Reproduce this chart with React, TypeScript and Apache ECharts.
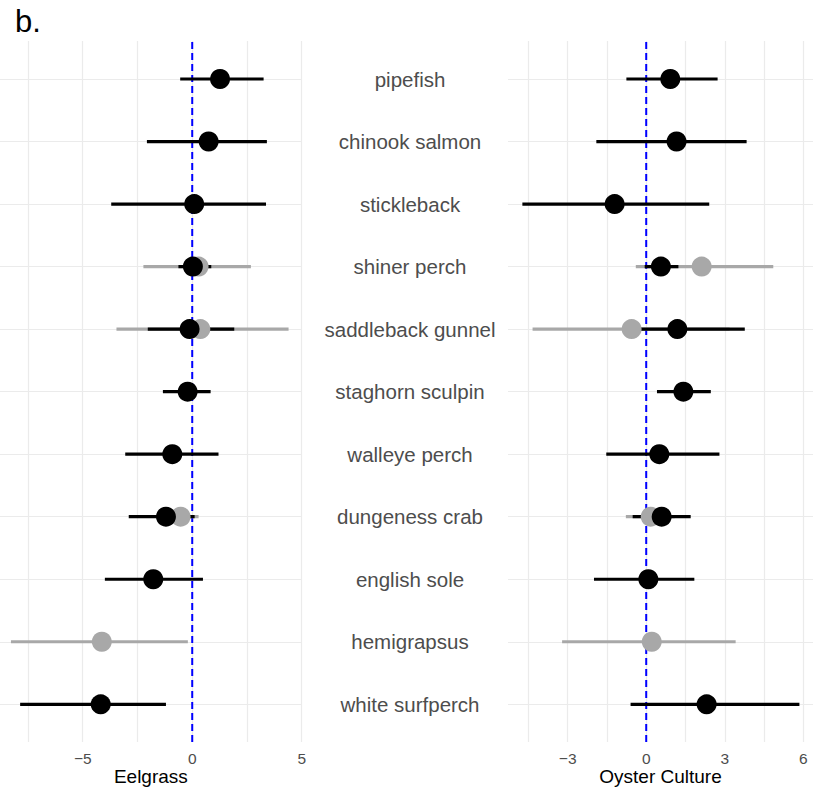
import React, { useEffect, useRef } from "react";
import * as echarts from "echarts";

// Species rows, top to bottom
const species = [
  "pipefish",
  "chinook salmon",
  "stickleback",
  "shiner perch",
  "saddleback gunnel",
  "staghorn sculpin",
  "walleye perch",
  "dungeness crab",
  "english sole",
  "hemigrapsus",
  "white surfperch",
];

// Eelgrass effects (black = primary estimate, grey = alternative estimate)
const eelBlackEst = [1.27, 0.75, 0.09, 0.03, -0.12, -0.21, -0.91, -1.2, -1.78, null, -4.18];
const eelBlackLo = [-0.55, -2.07, -3.7, -0.63, -2.03, -1.34, -3.06, -2.9, -3.99, null, -7.86];
const eelBlackHi = [3.26, 3.41, 3.37, 0.87, 1.92, 0.84, 1.2, 0.11, 0.49, null, -1.2];
const eelGreyEst = [null, null, null, 0.29, 0.37, null, null, -0.53, null, -4.13, null];
const eelGreyLo = [null, null, null, -2.23, -3.46, null, null, -1.4, null, -8.28, null];
const eelGreyHi = [null, null, null, 2.68, 4.4, null, null, 0.29, null, -0.2, null];

// Oyster culture effects
const oysBlackEst = [0.93, 1.17, -1.2, 0.57, 1.2, 1.43, 0.51, 0.6, 0.09, null, 2.32];
const oysBlackLo = [-0.75, -1.9, -4.73, -0.05, -0.84, 0.42, -1.52, -0.51, -1.99, null, -0.59];
const oysBlackHi = [2.74, 3.85, 2.42, 1.24, 3.78, 2.48, 2.81, 1.71, 1.85, null, 5.87];
const oysGreyEst = [null, null, null, 2.13, -0.55, null, null, 0.18, null, 0.22, null];
const oysGreyLo = [null, null, null, -0.39, -4.34, null, null, -0.77, null, -3.21, null];
const oysGreyHi = [null, null, null, 4.87, 3.2, null, null, 1.1, null, 3.43, null];

const BLACK = "#000000";
const GREY = "#A8A8A8";
const GRID = "#EBEBEB";
const TEXT = "#4D4D4D";
const FONT = "'Liberation Sans', Arial, Helvetica, sans-serif";

const minus = (v: number) => (v < 0 ? "\u2212" + Math.abs(v) : String(v));

function ranges(lo: (number | null)[], hi: (number | null)[]) {
  const out: number[][] = [];
  lo.forEach((l, i) => {
    const h = hi[i];
    if (l !== null && h !== null) out.push([l, h, i]);
  });
  return out;
}

function points(est: (number | null)[]) {
  const out: number[][] = [];
  est.forEach((e, i) => {
    if (e !== null) out.push([e, i]);
  });
  return out;
}

function rangeSeries(data: number[][], color: string, axis: number) {
  return {
    type: "custom",
    xAxisIndex: axis,
    yAxisIndex: axis,
    silent: true,
    z: 3,
    encode: { x: [0, 1], y: 2 },
    data,
    renderItem: (_params: any, api: any) => {
      const a = api.coord([api.value(0), api.value(2)]);
      const b = api.coord([api.value(1), api.value(2)]);
      return {
        type: "line",
        shape: { x1: a[0], y1: a[1], x2: b[0], y2: b[1] },
        style: { stroke: color, lineWidth: 3.2, lineCap: "butt" },
      };
    },
  };
}

function pointSeries(data: number[][], color: string, axis: number) {
  return {
    type: "scatter",
    xAxisIndex: axis,
    yAxisIndex: axis,
    silent: true,
    z: 4,
    symbol: "circle",
    symbolSize: 20,
    itemStyle: { color, opacity: 1 },
    data,
  };
}

function zeroLine(axis: number) {
  return {
    type: "line",
    xAxisIndex: axis,
    yAxisIndex: axis,
    silent: true,
    z: 2,
    symbol: "none",
    lineStyle: { color: "#0000FF", width: 2, type: [7, 4] },
    data: [
      [0, 0],
      [0, 1],
    ],
  };
}

export default function App() {
  const ref = useRef<HTMLDivElement>(null);

  useEffect(() => {
    if (!ref.current) return;
    const chart = echarts.init(ref.current, undefined, { renderer: "svg" });

    const gridAxisX = (min: number, max: number, interval: number, labelStep: number) => ({
      type: "value",
      min,
      max,
      interval,
      axisLine: { show: false },
      axisTick: { show: false },
      splitLine: { show: true, lineStyle: { color: GRID, width: 1.2 } },
      axisLabel: {
        color: TEXT,
        fontSize: 15.5,
        fontFamily: FONT,
        margin: 8,
        formatter: (v: number) =>
          Math.abs(v / labelStep - Math.round(v / labelStep)) < 1e-6 ? minus(v) : "",
      },
    });

    const rowAxisX = (min: number, max: number, name: string) => ({
      type: "value",
      min,
      max,
      axisLine: { show: false },
      axisTick: { show: false },
      axisLabel: { show: false },
      splitLine: { show: false },
      name,
      nameLocation: "middle",
      nameGap: 63,
      nameTextStyle: { color: "#000", fontSize: 19, fontFamily: FONT },
    });

    const hiddenY = { type: "value", min: 0, max: 1, show: false };

    const rowAxisY = (showLabels: boolean) => ({
      type: "category",
      data: species,
      inverse: true,
      boundaryGap: false,
      axisLine: { show: false },
      axisTick: { show: false },
      splitLine: { show: true, lineStyle: { color: GRID, width: 1.2 } },
      axisLabel: {
        show: showLabels,
        interval: 0,
        align: "center",
        margin: 98,
        color: TEXT,
        fontSize: 20.5,
        fontFamily: FONT,
      },
    });

    chart.setOption({
      animation: false,
      backgroundColor: "#ffffff",
      title: {
        text: "b.",
        left: 10,
        top: 1,
        textStyle: { color: "#000", fontSize: 31, fontWeight: "normal", fontFamily: FONT },
      },
      grid: [
        { left: 28, right: 518.3, top: 41, bottom: 51 },
        { left: 0, right: 518.3, top: 79, bottom: 88.7 },
        { left: 528.4, right: 16.7, top: 41, bottom: 51 },
        { left: 508, right: 7, top: 79, bottom: 88.7 },
      ],
      xAxis: [
        { gridIndex: 0, ...gridAxisX(-7.5, 5, 2.5, 5) },
        { gridIndex: 1, ...rowAxisX(-8.78, 5, "Eelgrass") },
        { gridIndex: 2, ...gridAxisX(-4.5, 6, 1.5, 3) },
        { gridIndex: 3, ...rowAxisX(-5.28, 6.39, "Oyster Culture") },
      ],
      yAxis: [
        { gridIndex: 0, ...hiddenY },
        { gridIndex: 1, ...rowAxisY(false) },
        { gridIndex: 2, ...hiddenY },
        { gridIndex: 3, ...rowAxisY(true) },
      ],
      series: [
        zeroLine(0),
        zeroLine(2),
        rangeSeries(ranges(eelGreyLo, eelGreyHi), GREY, 1),
        pointSeries(points(eelGreyEst), GREY, 1),
        rangeSeries(ranges(eelBlackLo, eelBlackHi), BLACK, 1),
        pointSeries(points(eelBlackEst), BLACK, 1),
        rangeSeries(ranges(oysGreyLo, oysGreyHi), GREY, 3),
        pointSeries(points(oysGreyEst), GREY, 3),
        rangeSeries(ranges(oysBlackLo, oysBlackHi), BLACK, 3),
        pointSeries(points(oysBlackEst), BLACK, 3),
      ],
    });

    return () => chart.dispose();
  }, []);

  return (
    <div
      ref={ref}
      style={{ position: "fixed", left: 0, top: 0, width: 820, height: 793, background: "#fff" }}
    />
  );
}
